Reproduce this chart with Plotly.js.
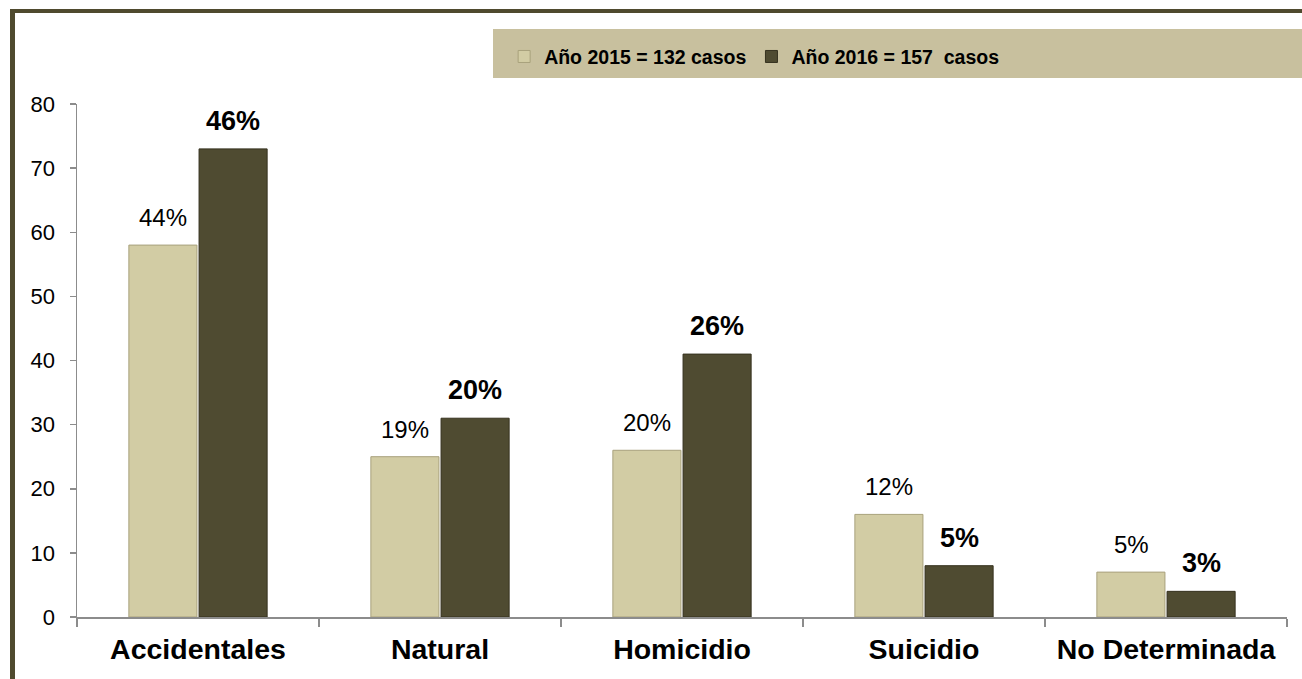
<!DOCTYPE html>
<html>
<head>
<meta charset="utf-8">
<script src="https://cdn.plot.ly/plotly-3.0.1.min.js"></script>
<style>
  html, body { margin: 0; padding: 0; background: #ffffff; }
  #chart { width: 1302px; height: 679px; }
</style>
</head>
<body>
<div id="chart"></div>
<script>
const categories = ["Accidentales", "Natural", "Homicidio", "Suicidio", "No Determinada"];
const values2015 = [58, 25, 26, 16, 7];
const values2016 = [73, 31, 41, 8, 4];
const labels2015 = ["44%", "19%", "20%", "12%", "5%"];
const labels2016 = ["46%", "20%", "26%", "5%", "3%"];
const seriesNames = ["Año 2015 = 132 casos", "Año 2016 = 157  casos"];
const yTicks = [0, 10, 20, 30, 40, 50, 60, 70, 80];

const FONT = "Liberation Sans, Arial, sans-serif";
const LIGHT = "#d2cca4";
const DARK = "#4f4b31";
const FRAME = "#4f4a2e";

const traces = [
  {
    type: "bar", name: seriesNames[0], x: categories, y: values2015,
    marker: { color: LIGHT, line: { color: "#a8a17c", width: 1 } },
    hoverinfo: "skip"
  },
  {
    type: "bar", name: seriesNames[1], x: categories, y: values2016,
    marker: { color: DARK, line: { color: "#36321f", width: 1 } },
    hoverinfo: "skip"
  }
];

const annotations = [];
categories.forEach((c, i) => {
  annotations.push({
    x: c, y: values2015[i], text: labels2015[i], showarrow: false,
    xref: "x", yref: "y", xanchor: "center", yanchor: "bottom",
    xshift: -35, yshift: 12,
    font: { family: FONT, size: 24, color: "#000" }
  });
  annotations.push({
    x: c, y: values2016[i], text: "<b>" + labels2016[i] + "</b>", showarrow: false,
    xref: "x", yref: "y", xanchor: "center", yanchor: "bottom",
    xshift: 35, yshift: 11,
    font: { family: FONT, size: 27, color: "#000" }
  });
});

const layout = {
  width: 1302, height: 679,
  margin: { l: 77, r: 15, t: 104, b: 62, pad: 0 },
  paper_bgcolor: "#ffffff", plot_bgcolor: "#ffffff",
  font: { family: FONT, color: "#000" },
  barmode: "group", bargap: 0.42, bargroupgap: 0.03,
  showlegend: true,
  legend: {
    orientation: "h", x: 0.353, xanchor: "left", y: 1.092, yanchor: "middle",
    bgcolor: "rgba(0,0,0,0)", borderwidth: 0,
    font: { family: FONT, size: 19.5, color: "#000", weight: "bold" },
    itemwidth: 30,
    itemclick: false, itemdoubleclick: false, traceorder: "normal"
  },
  xaxis: {
    type: "category", showgrid: false, zeroline: false,
    showline: true, linecolor: "#8c8c8c", linewidth: 1.5,
    ticks: "outside", tickson: "boundaries", ticklen: 8, tickcolor: "#8c8c8c", tickwidth: 1.5,
    ticklabelstandoff: 6,
    tickfont: { family: FONT, size: 28.5, color: "#000", weight: "bold" },
    fixedrange: true
  },
  yaxis: {
    range: [0, 80], tickvals: yTicks, showgrid: false, zeroline: false,
    showline: true, linecolor: "#8c8c8c", linewidth: 1.5,
    ticks: "outside", ticklen: 6, tickcolor: "#8c8c8c", tickwidth: 1.5,
    ticklabelstandoff: 10,
    tickfont: { family: FONT, size: 22, color: "#000" },
    fixedrange: true
  },
  shapes: [
    { type: "rect", xref: "paper", yref: "paper", x0: 0.3438, x1: 1.02, y0: 1.0507, y1: 1.1462,
      fillcolor: "#c8c09e", line: { width: 0 }, layer: "below" },
    { type: "line", xref: "paper", yref: "paper", x0: -0.0533, x1: 1.02, y0: 1.1813, y1: 1.1813,
      line: { color: FRAME, width: 4 } },
    { type: "line", xref: "paper", yref: "paper", x0: -0.0533, x1: -0.0533, y0: -0.13, y1: 1.185,
      line: { color: FRAME, width: 5 } }
  ],
  annotations: annotations
};

Plotly.newPlot("chart", traces, layout, { displayModeBar: false, staticPlot: true });
</script>
</body>
</html>
